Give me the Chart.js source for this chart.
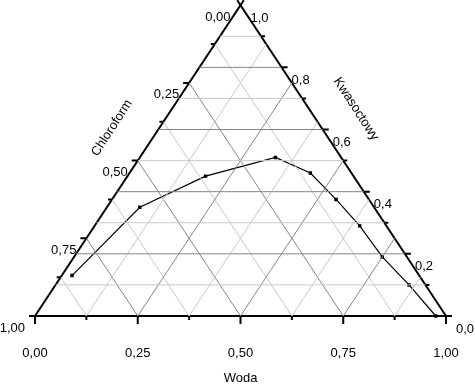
<!DOCTYPE html>
<html>
<head>
<meta charset="utf-8">
<script src="https://cdn.jsdelivr.net/npm/chart.js@4/dist/chart.umd.min.js"></script>
<style>
  html, body { margin: 0; padding: 0; background: #fff; }
  #wrap { width: 475px; height: 386px; }
</style>
</head>
<body>
<div id="wrap"><canvas id="trojkat" width="475" height="386"></canvas></div>
<script>
// dane krzywej (udzialy: woda, kwas octowy; chloroform = reszta)
const woda = [0.025, 0.08, 0.19, 0.33, 0.44, 0.545, 0.645, 0.75, 0.86, 0.975];
const kwas = [0.13, 0.35, 0.45, 0.51, 0.46, 0.375, 0.29, 0.19, 0.10, 0.0];

// podzialki osi
const wodaTicks = [0, 0.125, 0.25, 0.375, 0.5, 0.625, 0.75, 0.875, 1];
const chloroTicks = [0.125, 0.25, 0.375, 0.5, 0.625, 0.75, 0.875, 1];
const kwasTicks = [0, 0.1, 0.2, 0.3, 0.4, 0.5, 0.6, 0.7, 0.8, 0.9];

const wodaLabels = ['0,00', '0,25', '0,50', '0,75', '1,00'];
const wodaLabelValues = [0, 0.25, 0.5, 0.75, 1];
const chloroLabels = ['0,00', '0,25', '0,50', '0,75', '1,00'];
const chloroLabelValues = [0, 0.25, 0.5, 0.75, 1];
const kwasLabels = ['0,0', '0,2', '0,4', '0,6', '0,8', '1,0'];
const kwasLabelValues = [0, 0.2, 0.4, 0.6, 0.8, 1];

// siatka
const kwasGrid = [0.1, 0.2, 0.3, 0.4, 0.5, 0.6, 0.7, 0.8, 0.9];
const wodaGrid = [0.125, 0.25, 0.375, 0.5, 0.625, 0.75, 0.875];
const chloroGrid = [0.125, 0.25, 0.375, 0.5, 0.625, 0.75, 0.875];

const ciemny = '#858585';
const jasny = '#c9c9c9';

function punkt(w, k) {
  return { x: w + k / 2, y: k };
}

function czyGlowna(v, krok) {
  let r = v / krok;
  return Math.abs(r - Math.round(r)) < 1e-6;
}

function linia(a, b, kolor, grubosc) {
  return {
    data: [a, b],
    showLine: true,
    borderColor: kolor,
    borderWidth: grubosc,
    pointRadius: 0,
    clip: false
  };
}

const zbiory = [];

kwasGrid.forEach((k) => {
  zbiory.push(linia(punkt(0, k), punkt(1 - k, k), czyGlowna(k, 0.2) ? ciemny : jasny, 1));
});
wodaGrid.forEach((w) => {
  zbiory.push(linia(punkt(w, 0), punkt(w, 1 - w), czyGlowna(w, 0.25) ? ciemny : jasny, 1));
});
chloroGrid.forEach((c) => {
  zbiory.push(linia(punkt(0, 1 - c), punkt(1 - c, 0), czyGlowna(c, 0.25) ? ciemny : jasny, 1));
});

// boki trojkata (lekko przedluzone u gory)
zbiory.push(linia(punkt(0, 0), punkt(1.006, 0), '#000', 2));
zbiory.push(linia(punkt(0, 0), punkt(0, 1.016), '#000', 2));
zbiory.push(linia(punkt(1, 0), punkt(-0.016, 1.016), '#000', 2));

zbiory.push({
  data: woda.map((w, i) => punkt(w, kwas[i])),
  showLine: true,
  borderColor: '#000',
  borderWidth: 1.2,
  pointRadius: 1.6,
  pointStyle: 'rect',
  pointBackgroundColor: '#000',
  pointBorderColor: '#000',
  clip: false
});

const opisy = {
  id: 'opisy',
  afterDatasetsDraw(chart) {
    const ctx = chart.ctx;
    const sx = chart.scales.x;
    const sy = chart.scales.y;
    const px = (p) => [sx.getPixelForValue(p.x), sy.getPixelForValue(p.y)];

    ctx.save();
    ctx.strokeStyle = '#000';
    ctx.lineWidth = 2;
    ctx.beginPath();
    wodaTicks.forEach((w) => {
      let [x, y] = px(punkt(w, 0));
      let d = czyGlowna(w, 0.25) ? 8 : 4;
      ctx.moveTo(x, y);
      ctx.lineTo(x, y + d);
    });
    chloroTicks.forEach((c) => {
      let [x, y] = px(punkt(0, 1 - c));
      let d = czyGlowna(c, 0.25) ? 6 : 4;
      ctx.moveTo(x, y);
      ctx.lineTo(x - d, y);
    });
    kwasTicks.forEach((k) => {
      let [x, y] = px(punkt(1 - k, k));
      let d = czyGlowna(k, 0.2) ? 6 : 4;
      ctx.moveTo(x, y);
      ctx.lineTo(x + d, y);
    });
    ctx.stroke();

    ctx.fillStyle = '#000';
    ctx.font = '13px "Liberation Sans", Arial, sans-serif';
    ctx.textBaseline = 'middle';

    ctx.textAlign = 'center';
    wodaLabelValues.forEach((w, i) => {
      let [x, y] = px(punkt(w, 0));
      ctx.fillText(wodaLabels[i], x, y + 37);
    });
    ctx.fillText('Woda', sx.getPixelForValue(0.5), sy.getPixelForValue(0) + 62);

    ctx.textAlign = 'right';
    chloroLabelValues.forEach((c, i) => {
      let [x, y] = px(punkt(0, 1 - c));
      ctx.fillText(chloroLabels[i], x - 10, y + 12);
    });

    ctx.textAlign = 'left';
    kwasLabelValues.forEach((k, i) => {
      let [x, y] = px(punkt(1 - k, k));
      ctx.fillText(kwasLabels[i], x + 10, y + 13);
    });

    ctx.textAlign = 'center';
    ctx.save();
    ctx.translate(112, 128);
    ctx.rotate(-57 * Math.PI / 180);
    ctx.fillText('Chloroform', 0, 0);
    ctx.restore();

    ctx.save();
    ctx.translate(356, 109);
    ctx.rotate(57 * Math.PI / 180);
    ctx.fillText('Kwasoctowy', 0, 0);
    ctx.restore();

    ctx.restore();
  }
};

new Chart(document.getElementById('trojkat'), {
  type: 'scatter',
  data: { datasets: zbiory },
  options: {
    responsive: false,
    animation: false,
    layout: { padding: { left: 35, right: 29, top: 2, bottom: 70 } },
    scales: {
      x: { type: 'linear', min: 0, max: 1, display: false },
      y: { type: 'linear', min: 0, max: 1, display: false }
    },
    plugins: {
      legend: { display: false },
      tooltip: { enabled: false }
    }
  },
  plugins: [opisy]
});
</script>
</body>
</html>
